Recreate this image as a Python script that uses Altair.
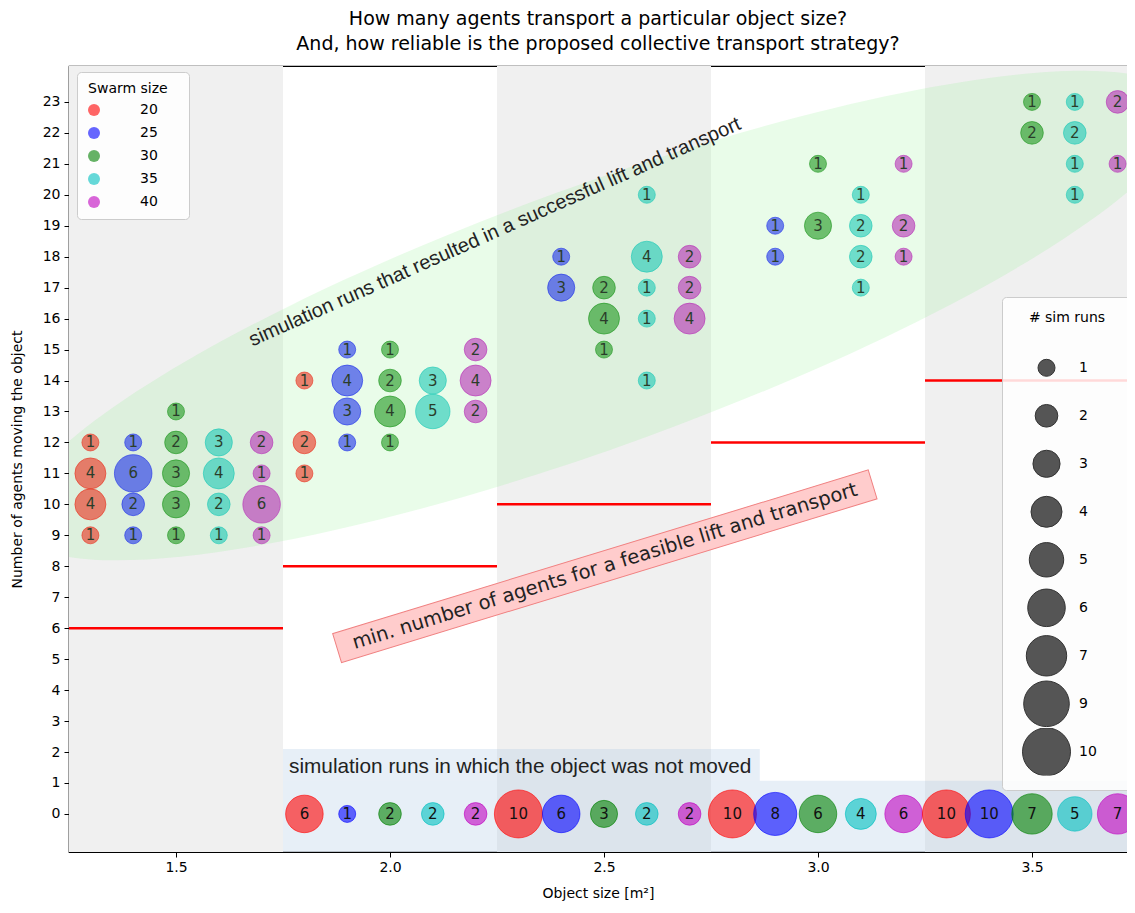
import altair as alt
import pandas as pd

# ---------------- data ----------------
swarm_sizes = ["20", "25", "30", "35", "40"]
swarm_colors = ["#ff0000", "#0000ff", "#008000", "#00bfbf", "#bf00bf"]

# runs in which the object was lifted and transported
moved_x = [
    1.3, 1.3, 1.3, 1.3, 1.8, 1.8, 1.8,
    1.4, 1.4, 1.4, 1.4, 1.9, 1.9, 1.9, 1.9, 2.4, 2.4, 2.9, 2.9,
    1.5, 1.5, 1.5, 1.5, 1.5, 2.0, 2.0, 2.0, 2.0, 2.5, 2.5, 2.5, 3.0, 3.0, 3.5, 3.5,
    1.6, 1.6, 1.6, 1.6, 2.1, 2.1, 2.6, 2.6, 2.6, 2.6, 2.6, 3.1, 3.1, 3.1, 3.1, 3.6, 3.6, 3.6, 3.6,
    1.7, 1.7, 1.7, 1.7, 2.2, 2.2, 2.2, 2.7, 2.7, 2.7, 3.2, 3.2, 3.2, 3.7, 3.7,
]
moved_agents = [
    12, 11, 10, 9, 14, 12, 11,
    12, 11, 10, 9, 15, 14, 13, 12, 18, 17, 19, 18,
    13, 12, 11, 10, 9, 15, 14, 13, 12, 17, 16, 15, 21, 19, 23, 22,
    12, 11, 10, 9, 14, 13, 20, 18, 17, 16, 14, 20, 19, 18, 17, 23, 22, 21, 20,
    12, 11, 10, 9, 15, 14, 13, 18, 17, 16, 21, 19, 18, 23, 21,
]
moved_runs = [
    1, 4, 4, 1, 1, 2, 1,
    1, 6, 2, 1, 1, 4, 3, 1, 1, 3, 1, 1,
    1, 2, 3, 3, 1, 1, 2, 4, 1, 2, 4, 1, 1, 3, 1, 2,
    3, 4, 2, 1, 3, 5, 1, 4, 1, 1, 1, 1, 2, 2, 1, 1, 2, 1, 1,
    2, 1, 6, 1, 2, 4, 2, 2, 2, 4, 1, 2, 1, 2, 1,
]
moved_swarm = ["20"] * 7 + ["25"] * 12 + ["30"] * 16 + ["35"] * 19 + ["40"] * 15

# runs in which the object was not moved
stuck_x = [1.8, 1.9, 2.0, 2.1, 2.2, 2.3, 2.4, 2.5, 2.6, 2.7,
           2.8, 2.9, 3.0, 3.1, 3.2, 3.3, 3.4, 3.5, 3.6, 3.7]
stuck_runs = [6, 1, 2, 2, 2, 10, 6, 3, 2, 2, 10, 8, 6, 4, 6, 10, 10, 7, 5, 7]
stuck_swarm = ["20", "25", "30", "35", "40"] * 4

# object-size groups: shaded bands and minimum feasible number of agents
band_start = [1.25, 2.25, 3.25]
band_end = [1.75, 2.75, 3.75]
group_start = [1.25, 1.75, 2.25, 2.75, 3.25]
group_end = [1.75, 2.25, 2.75, 3.25, 3.75]
min_agents = [6, 8, 10, 12, 14]

legend_sizes = [1, 2, 3, 4, 5, 6, 7, 9, 10]
x_ticks = [1.5, 2.0, 2.5, 3.0, 3.5]
y_ticks = list(range(0, 24))

title_lines = ["How many agents transport a particular object size?",
               "And, how reliable is the proposed collective transport strategy?"]
text_success = "simulation runs that resulted in a successful lift and transport"
text_min = "min. number of agents for a feasible lift and transport"
text_stuck = "simulation runs in which the object was not moved"

# ---------------- tables ----------------
pts = pd.DataFrame({
    "x": moved_x + stuck_x,
    "y": moved_agents + [0] * len(stuck_x),
    "runs": moved_runs + stuck_runs,
    "swarm": moved_swarm + stuck_swarm,
})
bands_df = pd.DataFrame({"x": band_start, "x2": band_end})
rules_df = pd.DataFrame({"x": group_start, "x2": group_end, "y": min_agents})
blue_df = pd.DataFrame({"x": [1.75, 1.75], "x2": [3.75, 2.864],
                        "y": [-1.23, 1.07], "y2": [1.07, 2.10]})
ellipse_df = pd.DataFrame({"x": [2.49], "y": [16.1]})
success_df = pd.DataFrame({"x": [2.245], "y": [18.8], "t": [text_success]})
min_df = pd.DataFrame({"x": [2.502], "y": [8.0], "t": [text_min]})
stuck_df = pd.DataFrame({"x": [1.764], "y": [1.53], "t": [text_stuck]})

W, H = 1058, 786
xscale = alt.Scale(domain=[1.25, 1.25 + W / 428.0], nice=False, zero=False)
yscale = alt.Scale(domain=[-1.23, 24.16], nice=False, zero=False)
xaxis = alt.Axis(values=x_ticks, format=".1f", title="Object size [m²]",
                 grid=False, labelFlush=False, tickSize=5, labelPadding=3, titlePadding=12)
yaxis = alt.Axis(values=y_ticks, title="Number of agents moving the object",
                 grid=False, tickSize=5, labelPadding=4, titlePadding=18, labelOverlap=False)


def X(f):
    return alt.X(f, type="quantitative", scale=xscale, axis=xaxis)


def Y(f):
    return alt.Y(f, type="quantitative", scale=yscale, axis=yaxis)


bands = alt.Chart(bands_df).mark_rect(fill="#f0f0f0", clip=True).encode(
    x=X("x"), x2="x2", y=alt.value(0), y2=alt.value(H))

blue = alt.Chart(blue_df).mark_rect(fill="#a0c0e0", opacity=0.25, clip=True).encode(
    x=X("x"), x2="x2", y=Y("y"), y2="y2")

rules = alt.Chart(rules_df).mark_rule(color="#ff0000", strokeWidth=2.5, clip=True).encode(
    x=X("x"), x2="x2", y=Y("y"))

color_scale = alt.Scale(domain=swarm_sizes, range=swarm_colors)
BL = "\u2800"  # blank glyph used to widen the legend boxes

bubbles = alt.Chart(pts).mark_point(
    filled=True, opacity=1, fillOpacity=0.6, strokeOpacity=0.6, strokeWidth=1, clip=True
).encode(
    x=X("x"), y=Y("y"),
    color=alt.Color("swarm:N", scale=color_scale, legend=alt.Legend(
        title="Swarm size" + BL, orient="none", legendX=8, legendY=6,
        padding=10,
        fillColor="rgba(255,255,255,0.85)", strokeColor="#cccccc", cornerRadius=4,
        symbolSize=144, symbolType="circle", symbolOpacity=0.6, symbolStrokeWidth=0,
        labelOffset=39, rowPadding=9, titlePadding=7, titleAnchor="middle",
        titleFontSize=14, labelFontSize=14, titleFontWeight="normal",
        titleFont="DejaVu Sans", labelFont="DejaVu Sans",
        titleColor="black", labelColor="black",
        labelExpr="datum.label + '" + BL * 2 + "'")),
    stroke=alt.Stroke("swarm:N", scale=color_scale, legend=None),
    size=alt.Size("runs:Q", scale=alt.Scale(domain=[1, 10], range=[289, 2304], zero=False),
                  legend=alt.Legend(
                      title=BL + "# sim runs" + BL, values=legend_sizes,
                      orient="none", legendX=933, legendY=231, padding=14,
                      symbolOffset=6, labelOffset=8, rowPadding=0, clipHeight=47.6,
                      gridAlign="all", titlePadding=19,
                      fillColor="rgba(255,255,255,0.85)", strokeColor="#cccccc",
                      cornerRadius=4, symbolFillColor="#555555",
                      symbolStrokeColor="#333333", symbolOpacity=1,
                      symbolStrokeWidth=1, symbolType="circle", titleAnchor="middle",
                      titleFontSize=14, labelFontSize=14, titleFontWeight="normal",
                      titleFont="DejaVu Sans", labelFont="DejaVu Sans",
                      titleColor="black", labelColor="black",
                      labelExpr="datum.label + '" + BL * 2 + "'")),
)

labels = alt.Chart(pts).mark_text(
    font="DejaVu Sans", fontSize=15, color="#111111", align="center", baseline="middle"
).encode(x=X("x"), y=Y("y"), text="runs:Q")

ellipse_path = "M -1 0 A 1 0.2097 0 1 1 1 0 A 1 0.2097 0 1 1 -1 0 Z"
ellipse = alt.Chart(ellipse_df).mark_point(
    shape=ellipse_path, size=1240 * 1240, angle=340, filled=True,
    fill="#90ee90", opacity=1, fillOpacity=0.2, strokeWidth=0, clip=True
).encode(x=X("x"), y=Y("y"))

success_text = alt.Chart(success_df).mark_text(
    font="Liberation Sans", fontSize=20, color="#222222", angle=336,
    align="center", baseline="middle"
).encode(x=X("x"), y=Y("y"), text="t:N")

box_path = "M -1 -0.054 L 1 -0.054 L 1 0.054 L -1 0.054 Z"
min_box = alt.Chart(min_df).mark_point(
    shape=box_path, size=560 * 560, angle=343, filled=True, fill="#ffcccc",
    stroke="#f08080", strokeWidth=1, opacity=1, fillOpacity=1, strokeOpacity=1
).encode(x=X("x"), y=Y("y"))

min_text = alt.Chart(min_df).mark_text(
    font="DejaVu Sans", fontSize=19.5, color="#222222", angle=343,
    align="center", baseline="middle"
).encode(x=X("x"), y=Y("y"), text="t:N")

stuck_text = alt.Chart(stuck_df).mark_text(
    font="Liberation Sans", fontSize=20.8, color="#222222", align="left", baseline="middle"
).encode(x=X("x"), y=Y("y"), text="t:N")

chart = alt.layer(
    bands, blue, rules, bubbles, labels, ellipse, success_text, min_box, min_text, stuck_text
).properties(
    width=W, height=H,
    title=alt.TitleParams(text=title_lines, anchor="middle", frame="group", fontSize=19,
                          fontWeight="normal", font="DejaVu Sans", color="black",
                          offset=12, lineHeight=25),
    autosize=alt.AutoSizeParams(type="none"),
    padding={"left": 61, "top": 58, "right": 0, "bottom": 51},
).configure_view(
    stroke="black", strokeWidth=1.2
).configure_axis(
    labelFont="DejaVu Sans", labelFontSize=14, labelColor="black",
    titleFont="DejaVu Sans", titleFontSize=14, titleFontWeight="normal", titleColor="black",
    tickColor="black", domainColor="black", domainWidth=1.2
)

chart.save("out.html", embed_options={"renderer": "svg", "actions": False})
